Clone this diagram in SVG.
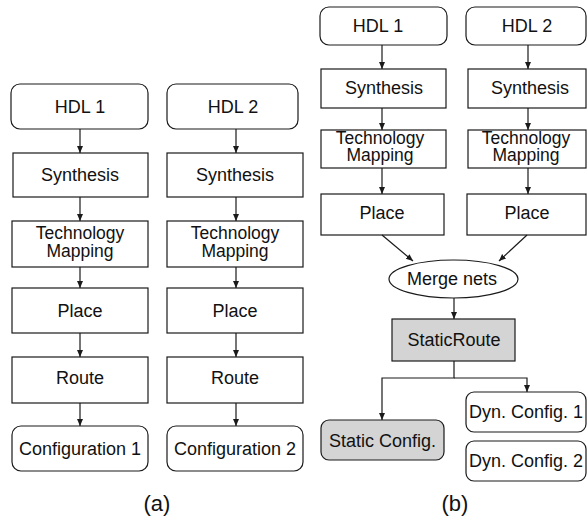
<svg xmlns="http://www.w3.org/2000/svg" width="587" height="520" viewBox="0 0 587 520">
<defs>
<marker id="ah" markerWidth="8" markerHeight="8" refX="7" refY="4" orient="auto" markerUnits="userSpaceOnUse">
<path d="M0,1 L7,4 L0,7 Z" fill="#1a1a1a"/>
</marker>
<style>
.b{fill:#fff;stroke:#1a1a1a;stroke-width:1.2}
.g{fill:#d4d4d4;stroke:#1a1a1a;stroke-width:1.2}
.t{font-family:"Liberation Sans",Arial,sans-serif;font-size:18px;fill:#111;text-anchor:middle}
.m{font-family:"Liberation Sans",Arial,sans-serif;font-size:17.5px;fill:#111;text-anchor:middle}
.l{font-family:"Liberation Sans",Arial,sans-serif;font-size:22px;fill:#111;text-anchor:middle}
.c{fill:none;stroke:#1a1a1a;stroke-width:1.2}
</style>
</defs>
<rect width="587" height="520" fill="#fff"/>

<!-- (a) column 1 -->
<g id="a1_hdl"><rect class="b" x="11" y="84" width="137" height="45" rx="9"/><text class="t" x="80" y="112.5">HDL 1</text></g>
<g id="a1_syn"><rect class="b" x="13" y="153" width="135" height="44"/><text class="t" x="80" y="181">Synthesis</text></g>
<g id="a1_tech"><rect class="b" x="12" y="221" width="136" height="46"/><text class="m" x="80" y="238.5">Technology</text><text class="m" x="80" y="256.5">Mapping</text></g>
<g id="a1_place"><rect class="b" x="12" y="288" width="136" height="45"/><text class="t" x="80" y="317">Place</text></g>
<g id="a1_route"><rect class="b" x="12" y="357" width="136" height="46"/><text class="t" x="80" y="384">Route</text></g>
<g id="a1_cfg"><rect class="b" x="12" y="426" width="136" height="45" rx="9"/><text class="t" x="80" y="455">Configuration 1</text></g>

<!-- (a) column 2 -->
<g id="a2_hdl"><rect class="b" x="167" y="84" width="131" height="45" rx="9"/><text class="t" x="233" y="112.5">HDL 2</text></g>
<g id="a2_syn"><rect class="b" x="167" y="153" width="136" height="44"/><text class="t" x="235" y="181">Synthesis</text></g>
<g id="a2_tech"><rect class="b" x="167" y="221" width="136" height="46"/><text class="m" x="235" y="238.5">Technology</text><text class="m" x="235" y="256.5">Mapping</text></g>
<g id="a2_place"><rect class="b" x="167" y="288" width="136" height="45"/><text class="t" x="235" y="317">Place</text></g>
<g id="a2_route"><rect class="b" x="167" y="357" width="136" height="46"/><text class="t" x="235" y="384">Route</text></g>
<g id="a2_cfg"><rect class="b" x="167" y="426" width="136" height="45" rx="9"/><text class="t" x="235" y="455">Configuration 2</text></g>

<!-- (b) left column -->
<g id="b1_hdl"><rect class="b" x="320" y="7" width="127" height="38" rx="9"/><text class="t" x="378" y="32">HDL 1</text></g>
<g id="b1_syn"><rect class="b" x="321" y="69" width="125" height="39"/><text class="t" x="384" y="94">Synthesis</text></g>
<g id="b1_tech"><rect class="b" x="321" y="130" width="125" height="38"/><text class="m" x="380" y="143.5">Technology</text><text class="m" x="380" y="161">Mapping</text></g>
<g id="b1_place"><rect class="b" x="321" y="194" width="123" height="41"/><text class="t" x="382" y="219">Place</text></g>

<!-- (b) right column -->
<g id="b2_hdl"><rect class="b" x="466" y="7" width="120" height="38" rx="9"/><text class="t" x="527" y="32">HDL 2</text></g>
<g id="b2_syn"><rect class="b" x="468" y="69" width="118" height="39"/><text class="t" x="530" y="94">Synthesis</text></g>
<g id="b2_tech"><rect class="b" x="468" y="130" width="118" height="38"/><text class="m" x="526" y="143.5">Technology</text><text class="m" x="526" y="161">Mapping</text></g>
<g id="b2_place"><rect class="b" x="467" y="194" width="119" height="41"/><text class="t" x="527" y="219">Place</text></g>

<g id="merge"><ellipse class="b" cx="453.5" cy="279" rx="64.5" ry="19"/><text class="t" x="452" y="285">Merge nets</text></g>
<g id="staticroute"><rect class="g" x="392" y="319" width="123" height="42"/><text class="t" x="454" y="345.5">StaticRoute</text></g>
<g id="staticcfg"><rect class="g" x="321" y="420" width="123" height="40" rx="8"/><text class="t" x="382.5" y="446.5">Static Config.</text></g>
<g id="dyn1"><rect class="b" x="466" y="392" width="120" height="40" rx="8"/><text class="t" x="526" y="418">Dyn. Config. 1</text></g>
<g id="dyn2"><rect class="b" x="466" y="441" width="120" height="40" rx="8"/><text class="t" x="526" y="467">Dyn. Config. 2</text></g>

<g id="connectors">
<line class="c" x1="80" y1="129" x2="80" y2="153" marker-end="url(#ah)"/>
<line class="c" x1="80" y1="197" x2="80" y2="221" marker-end="url(#ah)"/>
<line class="c" x1="80" y1="267" x2="80" y2="288" marker-end="url(#ah)"/>
<line class="c" x1="80" y1="333" x2="80" y2="357" marker-end="url(#ah)"/>
<line class="c" x1="80" y1="403" x2="80" y2="426" marker-end="url(#ah)"/>
<line class="c" x1="236" y1="129" x2="236" y2="153" marker-end="url(#ah)"/>
<line class="c" x1="236" y1="197" x2="236" y2="221" marker-end="url(#ah)"/>
<line class="c" x1="236" y1="267" x2="236" y2="288" marker-end="url(#ah)"/>
<line class="c" x1="236" y1="333" x2="236" y2="357" marker-end="url(#ah)"/>
<line class="c" x1="236" y1="403" x2="236" y2="426" marker-end="url(#ah)"/>
<line class="c" x1="382" y1="45" x2="382" y2="69" marker-end="url(#ah)"/>
<line class="c" x1="382" y1="108" x2="382" y2="130" marker-end="url(#ah)"/>
<line class="c" x1="382" y1="168" x2="382" y2="194" marker-end="url(#ah)"/>
<line class="c" x1="528" y1="45" x2="528" y2="69" marker-end="url(#ah)"/>
<line class="c" x1="528" y1="108" x2="528" y2="130" marker-end="url(#ah)"/>
<line class="c" x1="528" y1="168" x2="528" y2="194" marker-end="url(#ah)"/>
<line class="c" x1="382" y1="235" x2="413" y2="261" marker-end="url(#ah)"/>
<line class="c" x1="527" y1="235" x2="499" y2="261" marker-end="url(#ah)"/>
<line class="c" x1="454" y1="298" x2="454" y2="319" marker-end="url(#ah)"/>
<path class="c" d="M454,361 V378 H382 V420" marker-end="url(#ah)"/>
<path class="c" d="M454,378 H527 V392" marker-end="url(#ah)"/>
</g>

<text class="l" x="157" y="511">(a)</text>
<text class="l" x="455" y="511">(b)</text>
</svg>
